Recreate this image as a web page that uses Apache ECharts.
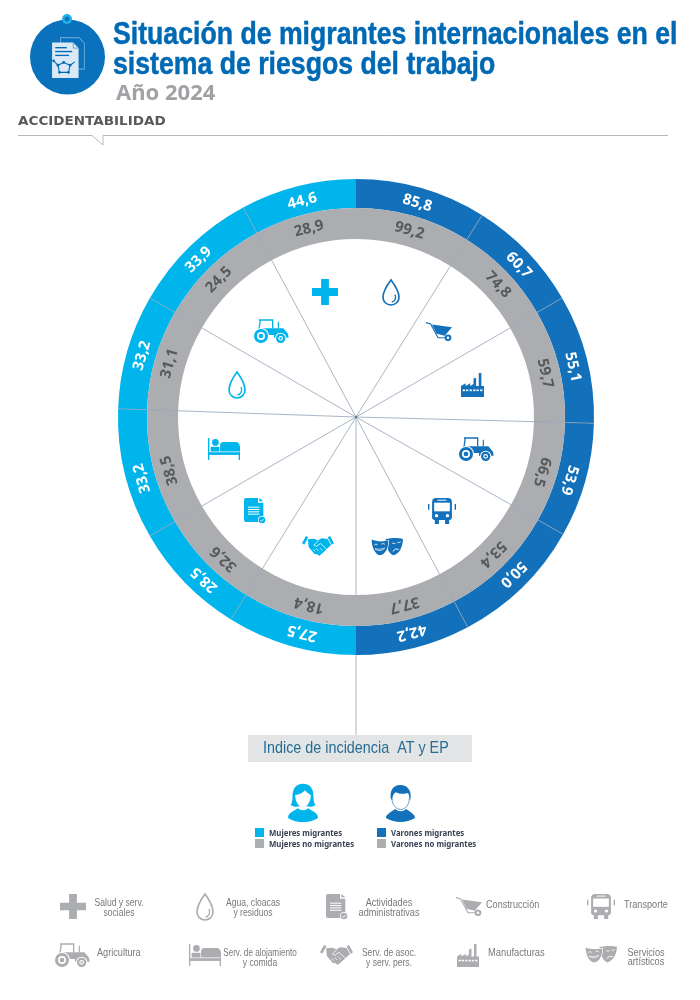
<!DOCTYPE html>
<html>
<head>
<meta charset="utf-8">
<script src="https://cdn.jsdelivr.net/npm/echarts@6/dist/echarts.min.js"></script>
<style>
html, body { margin: 0; background: #fff; }
#main { width: 700px; height: 1000px; }
</style>
</head>
<body>
<div id="main"></div>
<script>
// sectors clockwise from the top, right half = varones, left half = mujeres
const sectors = ['Agua, cloacas y residuos', 'Construcción', 'Manufacturas', 'Agricultura', 'Transporte', 'Servicios artísticos',
    'Serv. de asoc. y serv. pers.', 'Actividades administrativas', 'Serv. de alojamiento y comida', 'Agua, cloacas y residuos', 'Agricultura', 'Salud y serv. sociales'];
const sectorSpans = [32, 28, 31.5, 28, 32.5, 28, 31.7, 28.3, 32, 28, 31.7, 28.3];
const labelAngles = [16, 47, 77, 106.5, 135, 165.5, 194, 223, 254, 286, 315, 346];
const migrantes = [85.8, 60.7, 55.1, 53.9, 50.0, 42.2, 27.5, 28.5, 33.2, 33.2, 33.9, 44.6];
const noMigrantes = [99.2, 74.8, 59.7, 66.5, 53.4, 37.7, 18.4, 32.6, 38.5, 31.1, 24.5, 28.9];

const CYAN = '#00b5ec', BLUE = '#1271ba', GREY = '#acadb0', TITLE = '#0069b4', DARK = '#58595b';
const CX = 356, CY = 417;
const fmt = v => v.toFixed(1).replace('.', ',');

// cumulative angle of each sector
let acc = 0;
const sectorEnds = sectorSpans.map(s => (acc += s));

function circ(cx, cy, r) {
    return `M${cx - r} ${cy}A${r} ${r} 0 1 0 ${cx + r} ${cy}A${r} ${r} 0 1 0 ${cx - r} ${cy}Z`;
}
function box(x, y, w, h) {
    return `M${x} ${y}H${x + w}V${y + h}H${x}Z`;
}

// icon parts: [path, fill, strokeWidth]. 'c' = icon colour, fill with strokeWidth means stroked line
const W = '#fff';
const iconDefs = {
    cross: { w: 100, h: 100, parts: [['M35 0H65V35H100V65H65V100H35V65H0V35H35Z', 'c']] },
    drop: { w: 54, h: 84, parts: [
        ['M27 3C27 3 3 36 3 57A24 24 0 0 0 51 57C51 36 27 3 27 3Z', 'c', 5],
        ['M39 48C44 60 38 70 29 72', 'c', 4]] },
    tractor: { w: 105, h: 72, parts: [
        ['M15 3H58M19 3L15 30M56 3V28', 'c', 4],
        ['M73 8V28', 'c', 3.5],
        ['M12 28H88L102 44L104 56H60V48H36L34 38L12 34Z', 'c'],
        [circ(21, 51, 24), W], [circ(21, 51, 21), 'c'], [circ(21, 51, 12), W], [circ(21, 51, 7), 'c'],
        [circ(80, 58, 17), W], [circ(80, 58, 14), 'c'], [circ(80, 58, 7), W], [circ(80, 58, 3.5), 'c']] },
    barrow: { w: 78, h: 58, parts: [
        ['M0 2L14 6L36 48L58 48', 'c', 3.5],
        ['M18 8L78 16L56 42L32 36Z', 'c'],
        [circ(66, 48, 10), 'c'], [circ(66, 48, 4), W]] },
    factory: { w: 70, h: 70, parts: [
        ['M0 70V38L14 30V38L28 30V38L38 32V16L46 14V38H54V0H62V38H70V70Z', 'c'],
        [box(5, 48, 7, 5), W], [box(15, 48, 7, 5), W], [box(26, 48, 7, 5), W], [box(37, 48, 7, 5), W], [box(47, 48, 7, 5), W], [box(58, 48, 7, 5), W]] },
    bus: { w: 82, h: 78, parts: [
        ['M24 0H58A12 12 0 0 1 70 12V58A8 8 0 0 1 62 66H20A8 8 0 0 1 12 58V12A12 12 0 0 1 24 0Z', 'c'],
        [box(18, 14, 46, 26), W], [box(28, 5, 26, 3), W],
        [circ(25, 53, 5), W], [circ(57, 53, 5), W],
        [box(20, 64, 12, 14), 'c'], [box(50, 64, 12, 14), 'c'],
        [box(0, 18, 4, 17), 'c'], [box(78, 18, 4, 17), 'c']] },
    masks: { w: 97, h: 58, parts: [
        ['M44 6C60 4 80 0 97 6C96 30 86 52 68 56C54 52 46 30 44 6Z', 'c'],
        ['M0 6C15 13 35 13 54 9C56 32 46 56 27 58C10 56 0 30 0 6Z', W],
        ['M2 8C15 14 35 15 52 11C54 32 44 54 27 56C12 54 2 30 2 8Z', 'c'],
        ['M10 24Q15 19 20 24M32 22Q37 18 42 22', W, 2.5],
        ['M12 36Q27 48 42 34Q27 40 12 36Z', W, 2],
        ['M64 18Q69 22 74 19M80 16Q84 20 90 14', W, 2.5],
        ['M66 44Q74 32 84 38', W, 3]] },
    hands: { w: 97, h: 60, parts: [
        ['M0 22L12 0L19 4L7 26Z', 'c'], ['M97 22L85 0L78 4L90 26Z', 'c'],
        ['M18 10L36 8L48 13L60 7L78 9L88 27L66 48L52 60L46 55L38 54L20 33Z', 'c'],
        ['M50 13L36 27L44 31L56 22L75 40', W, 2.4],
        ['M34 40L40 46M43 37L50 45M54 36L62 44', W, 2.2]] },
    doc: { w: 66, h: 78, parts: [
        ['M6 0H42V14H58V66A6 6 0 0 1 52 72H6A6 6 0 0 1 0 66V6A6 6 0 0 1 6 0Z', 'c'],
        ['M46 0L58 10H46Z', 'c'],
        [box(12, 26, 34, 3), W], [box(12, 33, 34, 3), W], [box(12, 40, 34, 3), W], [box(12, 47, 34, 3), W],
        [circ(54, 66, 12), W], [circ(54, 66, 10), 'c'], ['M49 66L53 70L60 62', W, 2.4]] },
    bed: { w: 95, h: 65, parts: [
        ['M2 0V65M93 42V65', 'c', 4],
        [box(2, 42, 93, 8), 'c'],
        [circ(22, 13, 10), 'c'],
        [box(8, 26, 26, 14), 'c'],
        ['M36 22C36 14 40 12 46 12H82C90 12 95 18 95 28V40H36Z', 'c']] },
    woman: { w: 92, h: 117, parts: [
        ['M0 104C0 90 18 84 30 76C38 84 54 84 62 76C74 84 92 90 92 104C80 114 60 117 46 117C32 117 12 114 0 104Z', 'c'],
        ['M46 2C24 2 14 18 14 38C14 52 12 60 8 66C16 72 28 72 32 70H60C66 72 78 72 84 66C80 60 78 52 78 38C78 18 68 2 46 2Z', 'c'],
        ['M22 36C34 36 46 30 52 22C58 30 66 34 70 36C70 58 58 72 46 72C34 72 22 58 22 36Z', W]] },
    man: { w: 87, h: 112, parts: [
        ['M0 100C0 88 16 82 28 72C36 82 52 82 60 72C72 82 87 88 87 100C74 108 58 112 44 112C30 112 12 108 0 100Z', 'c'],
        ['M17 40C17 60 30 76 44 76C58 76 71 60 71 40', W, 5],
        ['M18 40C18 60 30 74 44 74C58 74 70 60 70 40', 'c', 2],
        ['M43 0C18 0 12 20 14 40L18 46C20 32 24 24 30 22C44 30 60 26 66 24C70 30 70 38 72 46L74 40C76 18 66 0 43 0Z', 'c']] },
    papers: { w: 66, h: 78, parts: [
        ['M16 1H54L65 12V62H16Z', '#0f6db5', 2],
        ['M18 3H53L63 13V60H18Z', '#5aa5dc', 2],
        ['M2 12H42L52 22V76H2Z', '#d9e9f6'],
        ['M42 12V22H52', '#4a9ad6', 1.5],
        [box(8, 20, 22, 2.4), TITLE], [box(8, 27, 32, 2.4), TITLE], [box(8, 34, 26, 2.4), TITLE],
        ['M24 48L36 53L33 66H16L13 53Z M5 45L13 53M36 53L45 47', TITLE, 2],
        [circ(5, 45, 2.5), TITLE], [circ(24, 48, 2.5), TITLE], [circ(36, 53, 2.5), TITLE], [circ(33, 66, 2.5), TITLE], [circ(16, 66, 2.5), TITLE], [circ(13, 53, 2.5), TITLE]] }
};

// icon placement: name, left, top, width, height, colour
const placedIcons = [
    ['papers', 51, 36, 35, 43, W],
    ['cross', 312, 279, 26, 26, CYAN], ['tractor', 254, 319, 35, 24, CYAN], ['drop', 228, 371, 18, 28, CYAN],
    ['bed', 208, 438, 32, 22, CYAN], ['doc', 244, 498, 22, 26, CYAN], ['hands', 302, 536, 32, 20, CYAN],
    ['masks', 371, 537, 32, 19, BLUE], ['bus', 428, 498, 28, 26, BLUE], ['tractor', 459, 437, 35, 24, BLUE],
    ['factory', 461, 373, 23, 24, BLUE], ['barrow', 426, 322, 26, 19, BLUE], ['drop', 382, 279, 18, 27, BLUE],
    ['woman', 288, 783, 30, 39, CYAN], ['man', 386, 785, 29, 37, BLUE],
    ['cross', 60, 894, 26, 25, GREY], ['drop', 196, 893, 18, 28, GREY], ['doc', 326, 894, 22, 26, GREY],
    ['barrow', 456, 897, 26, 19, GREY], ['bus', 587, 894, 28, 25, GREY],
    ['tractor', 55, 943, 35, 24, GREY], ['bed', 189, 944, 32, 22, GREY], ['hands', 320, 945, 33, 20, GREY],
    ['factory', 457, 944, 22, 23, GREY], ['masks', 585, 945, 32, 18, GREY]
];

// bottom key: text, x, y, align, horizontal squeeze
const keyTexts = [
    ['Salud y serv.', 119, 903, 'center', 0.78], ['sociales', 119, 913, 'center', 0.78],
    ['Agua, cloacas', 253, 903, 'center', 0.78], ['y residuos', 253, 913, 'center', 0.78],
    ['Actividades', 389, 903, 'center', 0.83], ['administrativas', 389, 913, 'center', 0.83],
    ['Construcción', 486, 905, 'left', 0.83], ['Transporte', 624, 905, 'left', 0.83],
    ['Agricultura', 97, 953, 'left', 0.83],
    ['Serv. de alojamiento', 260, 953, 'center', 0.74], ['y comida', 260, 963, 'center', 0.78],
    ['Serv. de asoc.', 389, 953, 'center', 0.78], ['y serv. pers.', 389, 963, 'center', 0.78],
    ['Manufacturas', 488, 953, 'left', 0.85],
    ['Servicios', 646, 953, 'center', 0.83], ['artísticos', 646, 962, 'center', 0.83]
];

// colour key under the chart
const legendRows = [
    ['Mujeres migrantes', CYAN, 255, 828], ['Mujeres no migrantes', GREY, 255, 839],
    ['Varones migrantes', BLUE, 377, 828], ['Varones no migrantes', GREY, 377, 839]
];

function text(str, x, y, size, color, opts) {
    opts = opts || {};
    return {
        type: 'text', x: x, y: y, silent: true,
        scaleX: opts.scaleX || 1,
        style: {
            text: str, fill: color,
            stroke: opts.heavy ? color : null, lineWidth: opts.heavy || 0,
            font: `${opts.weight || 'normal'} ${size}px ${opts.family || '"Liberation Sans"'}`,
            align: opts.align || 'left', verticalAlign: 'middle'
        }
    };
}

const graphics = [
    // vertical stem, goes under the rings
    { type: 'line', z: 0, shape: { x1: CX, y1: CY, x2: CX, y2: 735 }, style: { stroke: '#c8ced8', lineWidth: 1.5 } },
    { type: 'circle', z: 5, shape: { cx: CX, cy: CY, r: 1.2 }, style: { fill: '#5f7896' } },
    // header
    { type: 'circle', shape: { cx: 67.5, cy: 57, r: 37.5 }, style: { fill: '#0a71bd' } },
    { type: 'circle', shape: { cx: 67, cy: 19, r: 5 }, style: { fill: '#1fb4e8' } },
    { type: 'circle', shape: { cx: 67, cy: 19, r: 2.5 }, style: { fill: '#1271ba' } },
    text('Situación de migrantes internacionales en el', 113, 35, 31, TITLE, { weight: 'bold', scaleX: 0.86, heavy: 0.5 }),
    text('sistema de riesgos del trabajo', 113, 65, 31, TITLE, { weight: 'bold', scaleX: 0.86, heavy: 0.5 }),
    text('Año 2024', 116, 94, 22, '#a0a2a5', { weight: 'bold', family: '"Noto Sans"' }),
    text('ACCIDENTABILIDAD', 18, 122, 13, DARK, { weight: 'bold', family: '"DejaVu Sans"', scaleX: 1.04 }),
    { type: 'polyline', shape: { points: [[18, 135.5], [92, 135.5], [103, 145], [103, 135.5], [668, 135.5]] }, style: { stroke: '#b5b8bc', fill: 'none', lineWidth: 1 } },
    // caption box
    { type: 'rect', shape: { x: 248, y: 735, width: 224, height: 27 }, style: { fill: '#e3e4e5' } },
    text('Indice de incidencia  AT y EP', 263, 748.5, 17, '#256d94', { scaleX: 0.845 })
];
legendRows.forEach(r => {
    graphics.push({ type: 'rect', shape: { x: r[2], y: r[3], width: 9, height: 9 }, style: { fill: r[1] } });
    graphics.push(text(r[0], r[2] + 14, r[3] + 5, 9.5, '#3a4354', { weight: 'bold', family: '"Noto Sans"', scaleX: 0.82 }));
});
keyTexts.forEach(k => graphics.push(text(k[0], k[1], k[2], 11, '#77797c', { align: k[3], scaleX: k[4] })));

function ringData(values, colorOf, labelColor) {
    return sectors.map((name, i) => ({
        name: name,
        value: sectorSpans[i],
        itemStyle: { color: colorOf(i) },
        label: { formatter: fmt(values[i]), rotate: -labelAngles[i], color: labelColor }
    }));
}

// labels sit a little off the sector bisector in the original
function labelAt(r) {
    return function (params) {
        const a = labelAngles[params.dataIndex] * Math.PI / 180;
        return { x: CX + r * Math.sin(a), y: CY - r * Math.cos(a), align: 'center', verticalAlign: 'middle' };
    };
}

const ringLabel = { show: true, position: 'inside', fontFamily: '"Noto Sans"', fontWeight: 'bold', fontSize: 15 };

const spokes = sectorEnds.filter(a => a !== 180 && a !== 360).map(a => ({
    type: 'line',
    coordinateSystem: 'polar',
    data: [[0, a], [1, a]],
    showSymbol: false,
    silent: true,
    z: 4,
    lineStyle: { color: '#93a3b8', width: 0.8 }
}));

let chart = echarts.init(document.getElementById('main'));
chart.setOption({
    animation: false,
    polar: { center: [CX, CY], radius: 238 },
    angleAxis: { type: 'value', min: 0, max: 360, startAngle: 90, clockwise: true, show: false },
    radiusAxis: { type: 'value', min: 0, max: 1, show: false },
    graphic: { elements: graphics },
    series: [
        {
            name: 'Migrantes',
            type: 'pie',
            center: [CX, CY],
            radius: [209, 238],
            startAngle: 90,
            silent: true,
            label: ringLabel,
            labelLine: { show: false },
            labelLayout: labelAt(222.5),
            data: ringData(migrantes, i => (i < 6 ? BLUE : CYAN), '#fff')
        },
        {
            name: 'No migrantes',
            type: 'pie',
            center: [CX, CY],
            radius: [178, 209],
            startAngle: 90,
            silent: true,
            label: ringLabel,
            labelLine: { show: false },
            labelLayout: labelAt(194),
            data: ringData(noMigrantes, () => GREY, DARK)
        },
        {
            name: 'Iconos',
            type: 'custom',
            coordinateSystem: 'none',
            silent: true,
            z: 6,
            data: placedIcons.map((d, i) => [i]),
            renderItem: function (params) {
                const p = placedIcons[params.dataIndex];
                const def = iconDefs[p[0]];
                return {
                    type: 'group',
                    x: p[1], y: p[2],
                    scaleX: p[3] / def.w, scaleY: p[4] / def.h,
                    children: def.parts.map(part => {
                        const col = part[1] === 'c' ? p[5] : part[1];
                        return {
                            type: 'path',
                            shape: { pathData: part[0] },
                            style: part[2]
                                ? { fill: 'none', stroke: col, lineWidth: part[2] }
                                : { fill: col }
                        };
                    })
                };
            }
        }
    ].concat(spokes)
});
</script>
</body>
</html>
